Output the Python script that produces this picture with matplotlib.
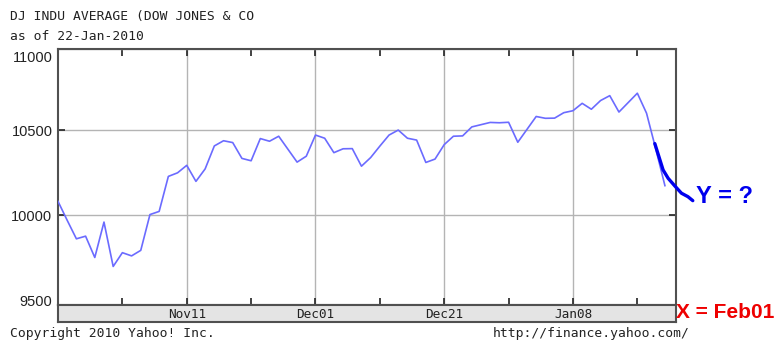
import matplotlib
matplotlib.use("Agg")
import matplotlib.pyplot as plt
import matplotlib.transforms as mtransforms
import numpy as np

# DJIA daily closes (Oct 22 2009 - Jan 22 2010)
dates = ["2009-10-22", "2009-10-23", "2009-10-26", "2009-10-27", "2009-10-28",
         "2009-10-29", "2009-10-30", "2009-11-02", "2009-11-03", "2009-11-04",
         "2009-11-05", "2009-11-06", "2009-11-09", "2009-11-10", "2009-11-11",
         "2009-11-12", "2009-11-13", "2009-11-16", "2009-11-17", "2009-11-18",
         "2009-11-19", "2009-11-20", "2009-11-23", "2009-11-24", "2009-11-25",
         "2009-11-27", "2009-11-30", "2009-12-01", "2009-12-02", "2009-12-03",
         "2009-12-04", "2009-12-07", "2009-12-08", "2009-12-09", "2009-12-10",
         "2009-12-11", "2009-12-14", "2009-12-15", "2009-12-16", "2009-12-17",
         "2009-12-18", "2009-12-21", "2009-12-22", "2009-12-23", "2009-12-24",
         "2009-12-28", "2009-12-29", "2009-12-30", "2009-12-31", "2010-01-04",
         "2010-01-05", "2010-01-06", "2010-01-07", "2010-01-08", "2010-01-11",
         "2010-01-12", "2010-01-13", "2010-01-14", "2010-01-15", "2010-01-19",
         "2010-01-20", "2010-01-21", "2010-01-22"]
closes = [10081, 9972, 9867, 9882, 9762, 9962, 9712, 9789, 9771, 9802,
          10005, 10023, 10226, 10247, 10291, 10197, 10270, 10406, 10437, 10426,
          10332, 10318, 10450, 10434, 10464, 10310, 10345, 10471, 10452, 10366,
          10389, 10390, 10286, 10337, 10405, 10471, 10501, 10452, 10441, 10308,
          10328, 10414, 10464, 10466, 10520, 10547, 10545, 10548, 10428, 10583,
          10572, 10573, 10606, 10618, 10663, 10627, 10680, 10710, 10610, 10725,
          10603, 10389, 10172]

# hand drawn continuation (weekday index, value)
guess_x = [64.9, 65.8, 66.35, 67.08, 67.8, 68.5, 69.03]
guess_y = [10420, 10264, 10215, 10170, 10128, 10108, 10085]

tick_dates = ["2009-11-11", "2009-12-01", "2009-12-21", "2010-01-08"]
tick_labels = ["Nov11", "Dec01", "Dec21", "Jan08"]
minor_dates = ["2009-11-02", "2009-11-20", "2009-12-10", "2009-12-30", "2010-01-19"]
y_ticks = [9500, 10000, 10500, 11000]

start = dates[0]
x = np.busday_count(start, dates)
xt = np.busday_count(start, tick_dates)
xm = np.busday_count(start, minor_dates)

mono = "DejaVu Sans Mono"
border = "#505050"
gridc = "#b4b4b4"

fig = plt.figure(figsize=(7.77, 3.43), dpi=100)
ax = fig.add_axes([58/777, 1-305/343, (675.5-58)/777, (305-49)/343])
ax.plot(x, closes, color="#6b6bff", lw=1.2, zorder=3)
ax.plot(guess_x, guess_y, color="#0000ee", lw=2.4, zorder=4, clip_on=False,
        solid_capstyle="round")

ax.set_yscale("log")
ax.set_ylim(9500, 11000)
ax.set_xlim(0, 67.15)
ax.set_yticks(y_ticks)
ax.set_yticklabels([str(v) for v in y_ticks], family="Liberation Sans",
                   fontsize=10.5, color="#222222")
ax.yaxis.set_minor_locator(matplotlib.ticker.NullLocator())
ax.set_xticks(xt)
ax.set_xticks(xm, minor=True)
ax.set_xticklabels([])
ax.tick_params(axis="both", which="both", direction="in", length=5, width=1.2,
               color="#222222", top=True, right=True)
ax.tick_params(axis="y", pad=4)
ax.grid(True, which="major", color=gridc, lw=1)
for s in ax.spines.values():
    s.set_color(border)
    s.set_linewidth(1.5)

# nudge the end labels inside the plot height like the original
labs = ax.get_yticklabels()
labs[0].set_transform(labs[0].get_transform() +
                      mtransforms.ScaledTranslation(0, 5/100, fig.dpi_scale_trans))
labs[-1].set_transform(labs[-1].get_transform() +
                       mtransforms.ScaledTranslation(0, -8/100, fig.dpi_scale_trans))

# date band
band = fig.add_axes([58/777, 1-322/343, (675.5-58)/777, 17/343])
band.set_facecolor("#e4e4e4")
band.set_xlim(0, 67.15)
band.set_ylim(0, 1)
band.set_xticks([])
band.set_yticks([])
for s in band.spines.values():
    s.set_color(border)
    s.set_linewidth(1.5)
for xv, lab in zip(xt, tick_labels):
    band.text(xv, 0.45, lab, ha="center", va="center", family=mono,
              fontsize=9.2, color="#222222")

fig.text(10/777, 1-16.5/343, "DJ INDU AVERAGE (DOW JONES & CO", family=mono,
         fontsize=9.4, va="center", color="#222222")
fig.text(10/777, 1-37/343, "as of 22-Jan-2010", family=mono,
         fontsize=9.4, va="center", color="#222222")
fig.text(10/777, 1-334/343, "Copyright 2010 Yahoo! Inc.", family=mono,
         fontsize=9.4, va="center", color="#222222")
fig.text(690/777, 1-334/343, "http://finance.yahoo.com/", family=mono,
         fontsize=9.4, va="center", ha="right", color="#222222")

fig.text(696/777, 1-197/343, "Y = ?", family="Liberation Sans", weight="bold",
         fontsize=17, color="#0000ee", va="center")
fig.text(676/777, 1-313/343, "X = Feb01", family="Liberation Sans", weight="bold",
         fontsize=15, color="#ee0000", va="center")

fig.savefig("out.png", dpi=100)
